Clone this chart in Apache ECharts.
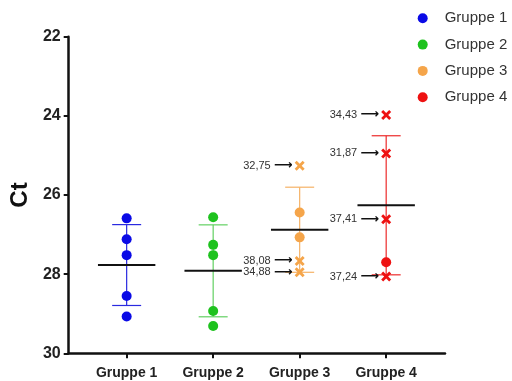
<!DOCTYPE html>
<html>
<head>
<meta charset="utf-8">
<script src="https://cdn.jsdelivr.net/npm/echarts@6/dist/echarts.min.js"></script>
<style>
  html, body { margin: 0; padding: 0; background: #fff; }
  #chart { width: 512px; height: 381px; }
</style>
</head>
<body>
<div id="chart"></div>
<script>
// Ct values per group (lower Ct plotted higher, axis inverted)
const groups = ['Gruppe 1', 'Gruppe 2', 'Gruppe 3', 'Gruppe 4'];
const g1 = [26.59, 27.12, 27.52, 28.55, 29.07];
const g2 = [26.56, 27.26, 27.52, 28.93, 29.31];
const g3 = [25.26, 26.44, 27.07, 27.67, 27.95];
const g4 = [23.98, 24.95, 26.61, 27.70, 28.06];
// annotated points (drawn as crosses) carry a text; null = plain dot
const g1Notes = [null, null, null, null, null];
const g2Notes = [null, null, null, null, null];
const g3Notes = ['32,75', null, null, '38,08', '34,88'];
const g4Notes = ['34,43', '31,87', '37,41', null, '37,24'];
const yTicks = [22, 24, 26, 28, 30];

const values = [g1, g2, g3, g4];
const notes = [g1Notes, g2Notes, g3Notes, g4Notes];
const dotColors = ['#0a0ae6', '#1ec21e', '#f5a54a', '#ee1111'];
const barColors = ['#2a2ae0', '#62d062', '#f5b266', '#ec2a2a'];

const crossPath = 'path://M2,0 L5,3 L8,0 L10,2 L7,5 L10,8 L8,10 L5,7 L2,10 L0,8 L3,5 L0,2 Z';

function meanSd(arr) {
  const m = arr.reduce((a, b) => a + b, 0) / arr.length;
  const v = arr.reduce((a, b) => a + (b - m) * (b - m), 0) / (arr.length - 1);
  return [m, Math.sqrt(v)];
}

const series = [];
values.forEach((arr, gi) => {
  const [m, s] = meanSd(arr);
  series.push({
    type: 'custom',
    name: groups[gi] + ' SD',
    z: 1,
    silent: true,
    data: [[gi + 1, m, s]],
    renderItem: function (params, api) {
      const x = api.value(0), mean = api.value(1), sd = api.value(2);
      const c = api.coord([x, mean]);
      const t = api.coord([x, mean - sd]);
      const b = api.coord([x, mean + sd]);
      const col = barColors[gi];
      const capW = 14.5, meanW = 28.7;
      return {
        type: 'group',
        children: [
          { type: 'line', shape: { x1: t[0], y1: t[1], x2: b[0], y2: b[1] }, style: { stroke: col, lineWidth: 1.2 } },
          { type: 'line', shape: { x1: t[0] - capW, y1: t[1], x2: t[0] + capW, y2: t[1] }, style: { stroke: col, lineWidth: 1.2 } },
          { type: 'line', shape: { x1: b[0] - capW, y1: b[1], x2: b[0] + capW, y2: b[1] }, style: { stroke: col, lineWidth: 1.2 } },
          { type: 'line', shape: { x1: c[0] - meanW, y1: c[1], x2: c[0] + meanW, y2: c[1] }, style: { stroke: '#111', lineWidth: 2 } }
        ]
      };
    }
  });
  series.push({
    type: 'scatter',
    name: groups[gi],
    z: 3,
    itemStyle: { color: dotColors[gi], opacity: 1 },
    data: arr.map((v, i) => {
      const n = notes[gi][i];
      if (n === null) {
        return { value: [gi + 1, v], symbol: 'circle', symbolSize: 10 };
      }
      return {
        value: [gi + 1, v],
        symbol: crossPath,
        symbolSize: 10,
        label: {
          show: true,
          position: 'left',
          distance: 2,
          formatter: '{t|' + n + '} {a|⟶}',
          rich: {
            t: { fontFamily: 'Liberation Sans', fontSize: 11, color: '#333' },
            a: { fontFamily: 'DejaVu Sans', fontWeight: 'bold', fontSize: 13, color: '#111' }
          }
        }
      };
    })
  });
});

const chart = echarts.init(document.getElementById('chart'), null, { renderer: 'canvas' });
chart.setOption({
  animation: false,
  backgroundColor: '#fff',
  grid: { left: 65, right: 67, top: 36.7, bottom: 27.7, containLabel: false },
  legend: {
    orient: 'vertical',
    left: 417.7,
    top: 10.3,
    padding: 0,
    itemGap: 10.3,
    itemWidth: 10,
    itemHeight: 10,
    icon: 'circle',
    data: groups,
    textStyle: { fontFamily: 'Liberation Sans', fontSize: 15, lineHeight: 16, color: '#333', padding: [0, 0, 0, 12] }
  },
  xAxis: {
    type: 'value',
    min: 0.33,
    max: 4.68,
    splitLine: { show: false },
    axisLine: { show: true, onZero: false, lineStyle: { color: '#111', width: 2.5 } },
    axisTick: { show: true, customValues: [1, 2, 3, 4], length: 5, lineStyle: { color: '#111', width: 2 } },
    axisLabel: {
      customValues: [1, 2, 3, 4],
      formatter: v => groups[Math.round(v) - 1],
      margin: 13,
      fontFamily: 'Liberation Sans',
      fontWeight: 'bold',
      fontSize: 14,
      color: '#222'
    }
  },
  yAxis: {
    type: 'value',
    inverse: true,
    min: 22,
    max: 30,
    interval: 2,
    name: 'Ct',
    nameLocation: 'middle',
    nameGap: 34,
    nameTextStyle: { fontFamily: 'Liberation Sans', fontWeight: 'bold', fontSize: 24, color: '#111' },
    splitLine: { show: false },
    axisLine: { show: true, onZero: false, lineStyle: { color: '#111', width: 2.5 } },
    axisTick: { show: true, length: 5, lineStyle: { color: '#111', width: 2 } },
    axisLabel: {
      margin: 8,
      fontFamily: 'Liberation Sans',
      fontWeight: 'bold',
      fontSize: 16,
      color: '#222',
      customValues: yTicks
    }
  },
  series: series
});
</script>
</body>
</html>
